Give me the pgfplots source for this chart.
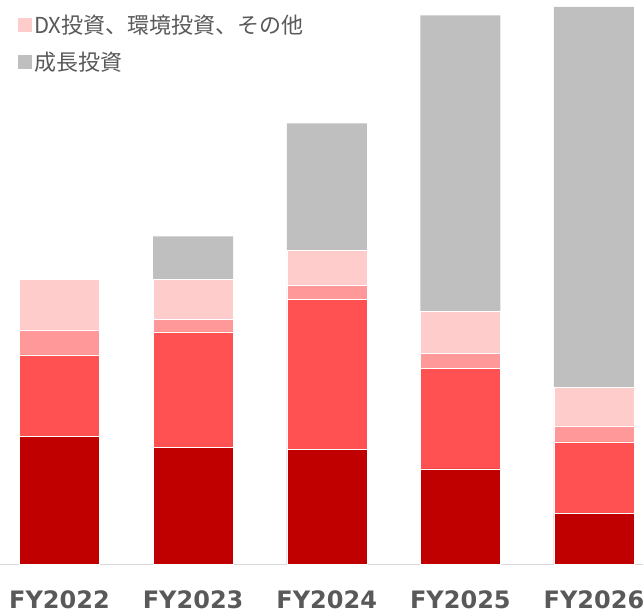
\documentclass[border=0pt]{standalone}
\usepackage{fontspec}
\setmainfont{DejaVu Sans}
\newfontfamily\cjk{Noto Sans CJK JP}
\usepackage{pgfplots}
\pgfplotsset{compat=1.18}
\definecolor{c1}{HTML}{C00000}
\definecolor{c2}{HTML}{FF5151}
\definecolor{c3}{HTML}{FF9999}
\definecolor{c4}{HTML}{FFCCCC}
\definecolor{c5}{HTML}{BFBFBF}
\definecolor{txt}{HTML}{595959}
\definecolor{axl}{HTML}{D9D9D9}
\begin{document}
\begin{tikzpicture}
\begin{axis}[name=ax,
  scale only axis, width=643pt, height=564.5pt,
  xmin=-0.4454, xmax=4.3668, ymin=0, ymax=564.5,
  ybar stacked, bar width=80pt,
  hide y axis,
  axis x line*=bottom,
  x axis line style={draw=axl, line width=1pt},
  xtick={0,1,2,3,4},
  xticklabels={FY2022,FY2023,FY2024,FY2025,FY2026},
  major tick length=0pt,
  xticklabel style={anchor=base, yshift=-44pt, inner sep=0pt, outer sep=0pt, text=txt, font=\fontsize{24}{24}\selectfont\bfseries},
  legend image code/.code={\fill[#1] (0pt,-7pt) rectangle (14pt,7pt);},
  legend style={at={(0,1)}, anchor=north west, xshift=18pt, yshift=-13pt,
    draw=none, fill=none, inner sep=0pt, row sep=12.5pt,
    font=\cjk\fontsize{22}{22}\selectfont, text=txt,
    /tikz/every even column/.style={column sep=10pt}},
  legend cell align=left,
]
\addlegendimage{fill=c4, draw=none}
\addlegendentry{DX投資、環境投資、その他}
\addlegendimage{fill=c5, draw=none}
\addlegendentry{成長投資}
\addplot[forget plot, fill=c1, draw=white, line width=0.3pt] coordinates {(0,128) (1,117.3) (2,115) (3,95.5) (4,51)};
\addplot[forget plot, fill=c2, draw=white, line width=0.3pt] coordinates {(0,81.5) (1,115.2) (2,150) (3,100.5) (4,71.5)};
\addplot[forget plot, fill=c3, draw=white, line width=0.3pt] coordinates {(0,25) (1,12.5) (2,14) (3,15) (4,16)};
\addplot[forget plot, fill=c4, draw=white, line width=0.3pt] coordinates {(0,50.5) (1,40) (2,35) (3,42) (4,38.5)};
\addplot[forget plot, fill=c5, draw=none] coordinates {(0,0) (1,43) (2,127) (3,296) (4,380.5)};
\end{axis}
\pgfresetboundingbox
\path[use as bounding box] ([yshift=-47.5pt]ax.south west) rectangle (ax.north east);
\end{tikzpicture}
\end{document}
